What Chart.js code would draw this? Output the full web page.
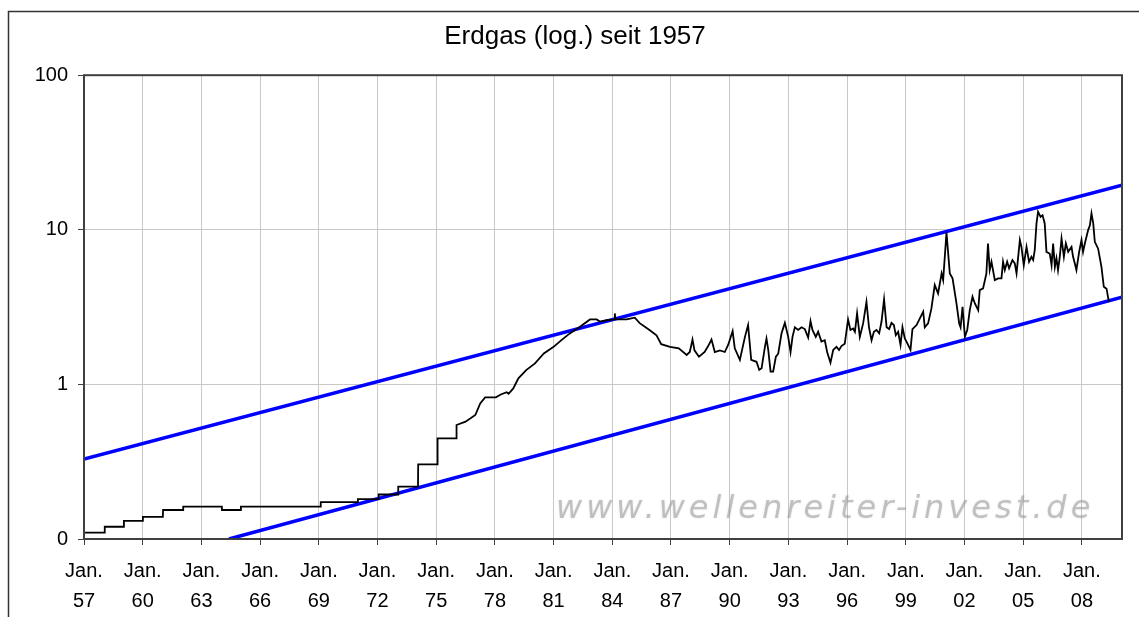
<!DOCTYPE html>
<html>
<head>
<meta charset="utf-8">
<script src="https://cdn.jsdelivr.net/npm/chart.js@4.4.0/dist/chart.umd.min.js"></script>
<style>
html, body { margin:0; padding:0; background:#fff; }
canvas { display:block; }
</style>
</head>
<body>
<canvas id="myChart" width="1139" height="617"></canvas>
<script>

// Erdgas Preis (log.)
var gasYears = [
    1957.00, 1958.05, 1958.06, 1959.03, 1959.04, 1960.00, 1960.01, 1961.03, 1961.04, 1962.06,
    1962.07, 1964.04, 1964.05, 1965.01, 1965.02, 1969.09, 1969.10, 1970.99, 1971.00, 1972.05,
    1972.06, 1973.05, 1973.06, 1974.07, 1974.08, 1975.06, 1975.07, 1976.03, 1976.04, 1976.50,
    1977.00, 1977.25, 1977.50, 1978.05, 1978.30, 1978.60, 1978.70, 1978.94, 1979.20, 1979.60,
    1980.05, 1980.50, 1981.00, 1981.40, 1981.83, 1982.35, 1982.86, 1983.20, 1983.37, 1983.70,
    1984.10, 1984.13, 1984.16, 1984.73, 1985.15, 1985.40, 1985.90, 1986.26, 1986.50, 1986.95,
    1987.40, 1987.80, 1987.96, 1988.10, 1988.20, 1988.43, 1988.72, 1988.90, 1989.07, 1989.24,
    1989.50, 1989.75, 1989.92, 1990.15, 1990.26, 1990.52, 1990.78, 1990.94, 1991.10, 1991.37,
    1991.51, 1991.63, 1991.80, 1991.88, 1991.97, 1992.09, 1992.22, 1992.36, 1992.48, 1992.65,
    1992.82, 1992.99, 1993.11, 1993.21, 1993.33, 1993.50, 1993.67, 1993.84, 1994.01, 1994.13,
    1994.23, 1994.40, 1994.52, 1994.69, 1994.86, 1994.98, 1995.15, 1995.29, 1995.46, 1995.59,
    1995.71, 1995.88, 1996.05, 1996.17, 1996.31, 1996.40, 1996.51, 1996.65, 1996.82, 1996.99,
    1997.12, 1997.25, 1997.37, 1997.50, 1997.64, 1997.76, 1997.89, 1998.02, 1998.15, 1998.27,
    1998.39, 1998.49, 1998.61, 1998.73, 1998.83, 1998.95, 1999.12, 1999.24, 1999.34, 1999.55,
    1999.72, 1999.89, 1999.97, 2000.14, 2000.31, 2000.48, 2000.65, 2000.83, 2000.91, 2001.08,
    2001.25, 2001.39, 2001.59, 2001.73, 2001.80, 2001.90, 2002.02, 2002.14, 2002.27, 2002.41,
    2002.53, 2002.70, 2002.78, 2002.95, 2003.12, 2003.20, 2003.29, 2003.38, 2003.55, 2003.72,
    2003.89, 2003.97, 2004.06, 2004.18, 2004.28, 2004.45, 2004.57, 2004.66, 2004.83, 2004.91,
    2005.03, 2005.17, 2005.30, 2005.42, 2005.51, 2005.59, 2005.68, 2005.76, 2005.89, 2005.99,
    2006.10, 2006.19, 2006.36, 2006.45, 2006.53, 2006.62, 2006.70, 2006.78, 2006.87, 2006.96,
    2007.08, 2007.18, 2007.30, 2007.47, 2007.55, 2007.64, 2007.72, 2007.86, 2007.98, 2008.06,
    2008.15, 2008.32, 2008.41, 2008.49, 2008.58, 2008.66, 2008.83, 2009.00, 2009.12, 2009.26,
    2009.38
]
var gasValues = [
    0.110, 0.110, 0.120, 0.120, 0.131, 0.131, 0.139, 0.139, 0.154, 0.154,
    0.162, 0.162, 0.154, 0.154, 0.162, 0.162, 0.173, 0.173, 0.181, 0.181,
    0.194, 0.194, 0.218, 0.218, 0.304, 0.304, 0.448, 0.448, 0.546, 0.574,
    0.634, 0.754, 0.825, 0.825, 0.860, 0.890, 0.870, 0.942, 1.094, 1.238,
    1.367, 1.587, 1.750, 1.935, 2.138, 2.360, 2.630, 2.630, 2.550, 2.600,
    2.630, 2.880, 2.630, 2.630, 2.700, 2.490, 2.250, 2.080, 1.820, 1.750,
    1.710, 1.550, 1.620, 1.950, 1.660, 1.510, 1.620, 1.770, 1.950, 1.620,
    1.660, 1.620, 1.800, 2.210, 1.710, 1.440, 2.030, 2.420, 1.440, 1.400,
    1.240, 1.270, 1.750, 1.980, 1.670, 1.210, 1.210, 1.510, 1.580, 2.140,
    2.500, 2.030, 1.620, 2.030, 2.340, 2.250, 2.340, 2.280, 2.010, 2.570,
    2.250, 2.030, 2.190, 1.890, 1.930, 1.620, 1.380, 1.670, 1.750, 1.670,
    1.770, 1.830, 2.630, 2.250, 2.300, 2.190, 2.880, 2.030, 2.480, 3.420,
    2.340, 1.930, 2.190, 2.250, 2.140, 2.550, 3.550, 2.340, 2.280, 2.500,
    2.420, 2.080, 2.190, 1.800, 2.340, 1.980, 1.800, 1.670, 2.280, 2.420,
    2.670, 2.950, 2.340, 2.480, 3.100, 4.390, 3.880, 5.220, 4.730, 9.600,
    5.220, 4.850, 3.340, 2.480, 2.340, 3.180, 2.030, 2.250, 3.020, 3.690,
    3.340, 3.020, 4.070, 4.180, 5.220, 8.160, 5.490, 6.210, 4.730, 4.850,
    4.850, 6.210, 5.490, 6.210, 5.630, 6.370, 6.060, 5.220, 8.580, 7.760,
    5.910, 7.760, 6.210, 6.690, 6.370, 7.390, 10.99, 13.07, 12.13, 12.40,
    10.99, 7.200, 7.000, 5.910, 8.160, 5.760, 6.550, 5.490, 6.690, 8.790,
    6.690, 8.160, 7.200, 7.760, 6.690, 6.060, 5.490, 7.200, 8.580, 7.200,
    8.160, 9.950, 10.70, 12.76, 10.99, 8.360, 7.550, 5.760, 4.280, 4.160,
    3.420
]

// Trendkanal
var upperYears = [1957, 2010.05]
var upperValues = [0.329, 19.45]
var lowerYears = [1964.41, 2010.05]
var lowerValues = [0.1, 3.67]

// Achsen
var xTickYears = [1957,1960,1963,1966,1969,1972,1975,1978,1981,1984,1987,1990,1993,1996,1999,2002,2005,2008]
var xTickMonth = 'Jan.'
var xTickLabels = ['57','60','63','66','69','72','75','78','81','84','87','90','93','96','99','02','05','08']
var yTickValues = [0.1, 1, 10, 100]
var yTickLabels = ['0', '1', '10', '100']

var FONT = '"Liberation Sans", Arial, sans-serif'

function toPoints(xs, ys){
    var pts = []
    for (var i = 0; i < xs.length; i++) pts.push({x: xs[i], y: ys[i]})
    return pts
}

var framePlugin = {
    id: 'frame',
    beforeDraw: function(chart){
        var c = chart.ctx
        c.save()
        c.fillStyle = '#fff'
        c.fillRect(0, 0, chart.width, chart.height)
        c.strokeStyle = '#333'
        c.lineWidth = 1.5
        c.strokeRect(8.5, 11.5, chart.width + 20, chart.height + 20)
        c.restore()
    },
    beforeDatasetsDraw: function(chart){
        // watermark
        var c = chart.ctx
        c.save()
        c.font = 'italic 32px "DejaVu Sans", Verdana, sans-serif'
        c.letterSpacing = '4px'
        c.fillStyle = 'rgba(150,150,150,0.5)'
        c.shadowColor = 'rgba(150,150,150,0.5)'
        c.shadowBlur = 2
        c.textBaseline = 'alphabetic'
        c.fillText('www.wellenreiter-invest.de', 556, 518)
        c.restore()
    },
    afterDatasetsDraw: function(chart){
        var a = chart.chartArea
        var c = chart.ctx
        c.save()
        c.strokeStyle = '#404040'
        c.lineWidth = 2
        c.strokeRect(a.left, a.top, a.right - a.left, a.bottom - a.top)
        c.restore()
    }
}

var ctx = document.getElementById('myChart').getContext('2d')
var Chart1 = new Chart(ctx, {
    type: 'line',
    plugins: [framePlugin],
    data: {
        datasets: [{
            label: 'Erdgas',
            data: toPoints(gasYears, gasValues),
            borderColor: '#000',
            borderWidth: 1.8,
            pointRadius: 0,
            tension: 0
        }, {
            label: 'oben',
            data: toPoints(upperYears, upperValues),
            borderColor: '#0000ff',
            borderWidth: 3.5,
            pointRadius: 0
        }, {
            label: 'unten',
            data: toPoints(lowerYears, lowerValues),
            borderColor: '#0000ff',
            borderWidth: 3.5,
            pointRadius: 0
        }]
    },
    options: {
        responsive: false,
        animation: false,
        devicePixelRatio: 1,
        layout: { padding: { left: 28, right: 17, top: 0, bottom: 0 } },
        plugins: {
            legend: { display: false },
            tooltip: { enabled: false },
            title: {
                display: true,
                text: 'Erdgas (log.) seit 1957',
                color: '#000',
                font: { family: FONT, size: 26, weight: 'normal', lineHeight: 1.2 },
                padding: { top: 21, bottom: 23 }
            }
        },
        scales: {
            x: {
                type: 'linear',
                min: 1957,
                max: 2010.05,
                afterBuildTicks: function(scale){
                    scale.ticks = xTickYears.map(function(v){ return {value: v} })
                },
                afterFit: function(scale){ scale.height = 78 },
                ticks: {
                    autoSkip: false,
                    maxRotation: 0,
                    padding: 12,
                    color: '#000',
                    font: { family: FONT, size: 20, lineHeight: 1.47 },
                    callback: function(v){
                        var i = xTickYears.indexOf(v)
                        return i < 0 ? '' : [xTickMonth, xTickLabels[i]]
                    }
                },
                grid: { color: '#c8c8c8', lineWidth: 1, tickColor: '#404040', tickLength: 6 },
                border: { display: false }
            },
            y: {
                type: 'logarithmic',
                min: 0.1,
                max: 100,
                afterBuildTicks: function(scale){
                    scale.ticks = yTickValues.map(function(v){ return {value: v} })
                },
                afterFit: function(scale){ scale.width = 56 },
                ticks: {
                    padding: 10,
                    color: '#000',
                    font: { family: FONT, size: 20 },
                    callback: function(v){
                        var i = yTickValues.indexOf(v)
                        return i < 0 ? '' : yTickLabels[i]
                    }
                },
                grid: { color: '#c8c8c8', lineWidth: 1, tickColor: '#404040', tickLength: 6 },
                border: { display: false }
            }
        }
    }
})
</script>
</body>
</html>
